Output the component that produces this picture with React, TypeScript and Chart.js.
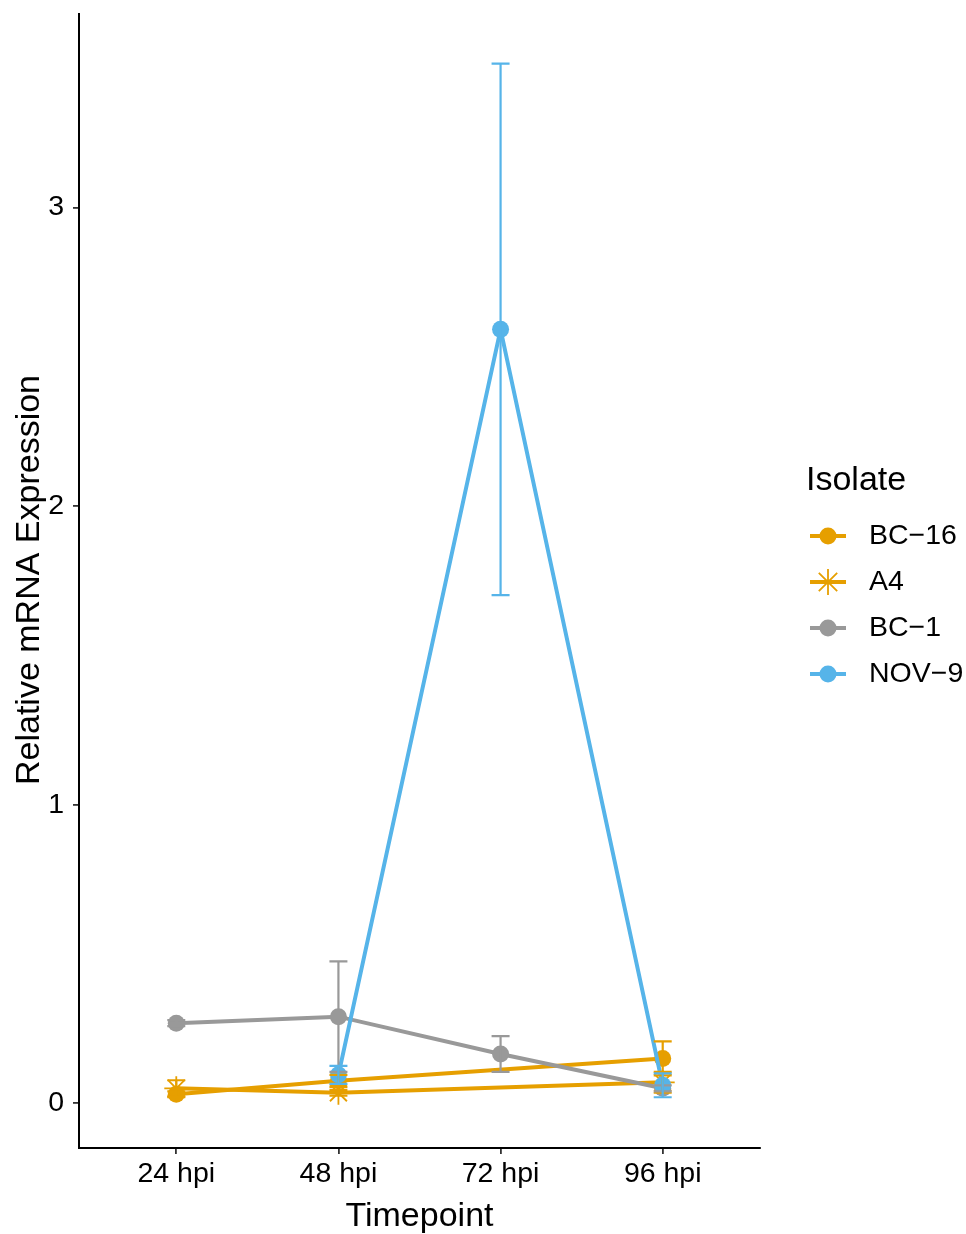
import React, { useEffect, useRef } from "react";
import { Chart, registerables } from "chart.js";

Chart.register(...registerables);

const timepoints = ["24 hpi", "48 hpi", "72 hpi", "96 hpi"];
const isolates = ["BC\u221216", "A4", "BC\u22121", "NOV\u22129"];
const colors = ["#E69F00", "#E69F00", "#999999", "#56B4E9"];
const shapes = ["circle", "star", "circle", "circle"];

const bc16Mean = [0.03, 0.075, null, 0.15];
const bc16Err = [0.01, 0.02, null, 0.057];
const a4Mean = [0.05, 0.035, null, 0.07];
const a4Err = [0.027, 0.01, null, 0.035];
const bc1Mean = [0.268, 0.29, 0.165, 0.05];
const bc1Err = [0.01, 0.185, 0.06, 0.01];
const nov9Mean = [null, 0.095, 2.592, 0.06];
const nov9Err = [null, 0.03, 0.89, 0.04];

const yTicks = [0, 1, 2, 3];

const means = [bc16Mean, a4Mean, bc1Mean, nov9Mean];
const errs = [bc16Err, a4Err, bc1Err, nov9Err];

const FONT = "'Liberation Sans', Arial, Helvetica, sans-serif";

export default function App() {
  const ref = useRef<HTMLCanvasElement | null>(null);

  useEffect(() => {
    const canvas = ref.current;
    if (!canvas) return;

    const datasets = isolates.map((name, k) => ({
      label: name,
      data: means[k].map((y, i) => ({ x: i, y: y })),
      borderColor: colors[k],
      backgroundColor: colors[k],
      borderWidth: 4,
      pointStyle: shapes[k],
      pointRadius: shapes[k] === "star" ? 12 : 8.5,
      pointBorderWidth: shapes[k] === "star" ? 1.8 : 0,
      pointBorderColor: colors[k],
      pointBackgroundColor: colors[k],
      spanGaps: true,
      tension: 0,
      order: 3 - k,
    }));

    const errorBarPlugin = {
      id: "errorBars",
      afterDatasetsDraw(chart: any) {
        const ctx = chart.ctx;
        const xs = chart.scales.x;
        const ys = chart.scales.y;
        ctx.save();
        for (let k = 0; k < isolates.length; k++) {
          ctx.strokeStyle = colors[k];
          ctx.lineWidth = 2.2;
          for (let i = 0; i < timepoints.length; i++) {
            const m = means[k][i];
            const e = errs[k][i];
            if (m == null || e == null) continue;
            const px = xs.getPixelForValue(i);
            const top = ys.getPixelForValue(m + e);
            const bot = ys.getPixelForValue(m - e);
            const hw = 9;
            ctx.beginPath();
            ctx.moveTo(px, top);
            ctx.lineTo(px, bot);
            ctx.moveTo(px - hw, top);
            ctx.lineTo(px + hw, top);
            ctx.moveTo(px - hw, bot);
            ctx.lineTo(px + hw, bot);
            ctx.stroke();
          }
        }
        ctx.restore();
      },
    };

    const textPlugin = {
      id: "texts",
      afterDraw(chart: any) {
        const ctx = chart.ctx;
        const area = chart.chartArea;
        ctx.save();
        ctx.fillStyle = "#000";
        ctx.textBaseline = "middle";
        ctx.font = `34px ${FONT}`;
        ctx.textAlign = "center";
        ctx.fillText("Timepoint", (area.left + area.right) / 2, 1217);
        ctx.save();
        ctx.translate(30, 580);
        ctx.rotate(-Math.PI / 2);
        ctx.fillText("Relative mRNA Expression", 0, 0);
        ctx.restore();
        ctx.textAlign = "left";
        ctx.fillText("Isolate", 806, 481);
        ctx.font = `28.5px ${FONT}`;
        const ys0 = [536, 582, 628, 674];
        for (let k = 0; k < isolates.length; k++) {
          const y = ys0[k];
          ctx.strokeStyle = colors[k];
          ctx.fillStyle = colors[k];
          ctx.lineWidth = 4;
          ctx.beginPath();
          ctx.moveTo(810, y);
          ctx.lineTo(846, y);
          ctx.stroke();
          if (shapes[k] === "star") {
            ctx.lineWidth = 1.8;
            ctx.beginPath();
            const r = 13;
            for (let a = 0; a < 4; a++) {
              const ang = (a * Math.PI) / 4;
              ctx.moveTo(828 - r * Math.cos(ang), y - r * Math.sin(ang));
              ctx.lineTo(828 + r * Math.cos(ang), y + r * Math.sin(ang));
            }
            ctx.stroke();
          } else {
            ctx.beginPath();
            ctx.arc(828, y, 8.5, 0, Math.PI * 2);
            ctx.fill();
          }
          ctx.fillStyle = "#000";
          ctx.fillText(isolates[k], 869, y);
        }
        ctx.restore();
      },
    };

    const chart = new Chart(canvas, {
      type: "line",
      data: { datasets: datasets as any },
      options: {
        responsive: false,
        animation: false,
        devicePixelRatio: 1,
        layout: { padding: { top: 12, right: 206, left: 0, bottom: 0 } },
        plugins: { legend: { display: false }, tooltip: { enabled: false } },
        scales: {
          x: {
            type: "linear",
            min: -0.6,
            max: 3.6,
            afterBuildTicks: (s: any) => {
              s.ticks = timepoints.map((_, i) => ({ value: i }));
            },
            afterFit: (s: any) => {
              s.height = 86;
              s.paddingLeft = 0;
              s.paddingRight = 0;
            },
            ticks: {
              callback: (v: any) => timepoints[v as number] ?? "",
              font: { family: FONT, size: 28.5 },
              color: "#000",
              padding: 3,
              maxRotation: 0,
              autoSkip: false,
            },
            grid: {
              display: true,
              drawOnChartArea: false,
              drawTicks: true,
              tickLength: 6,
              color: "#333",
              lineWidth: 1.8,
            },
            border: { display: true, color: "#000", width: 2 },
          },
          y: {
            type: "linear",
            min: -0.15,
            max: 3.649,
            afterBuildTicks: (s: any) => {
              s.ticks = yTicks.map((v) => ({ value: v }));
            },
            afterFit: (s: any) => {
              s.width = 79;
              s.paddingTop = 0;
              s.paddingBottom = 0;
            },
            ticks: {
              callback: (v: any) => String(v),
              font: { family: FONT, size: 28.5 },
              color: "#000",
              padding: 9,
            },
            grid: {
              display: true,
              drawOnChartArea: false,
              drawTicks: true,
              tickLength: 6,
              color: "#333",
              lineWidth: 1.8,
            },
            border: { display: true, color: "#000", width: 2 },
          },
        },
      },
      plugins: [errorBarPlugin, textPlugin],
    });

    return () => chart.destroy();
  }, []);

  return (
    <div style={{ position: "absolute", left: 0, top: 0, width: 966, height: 1234, background: "#fff" }}>
      <canvas ref={ref} width={966} height={1234} style={{ width: 966, height: 1234, display: "block" }} />
    </div>
  );
}
